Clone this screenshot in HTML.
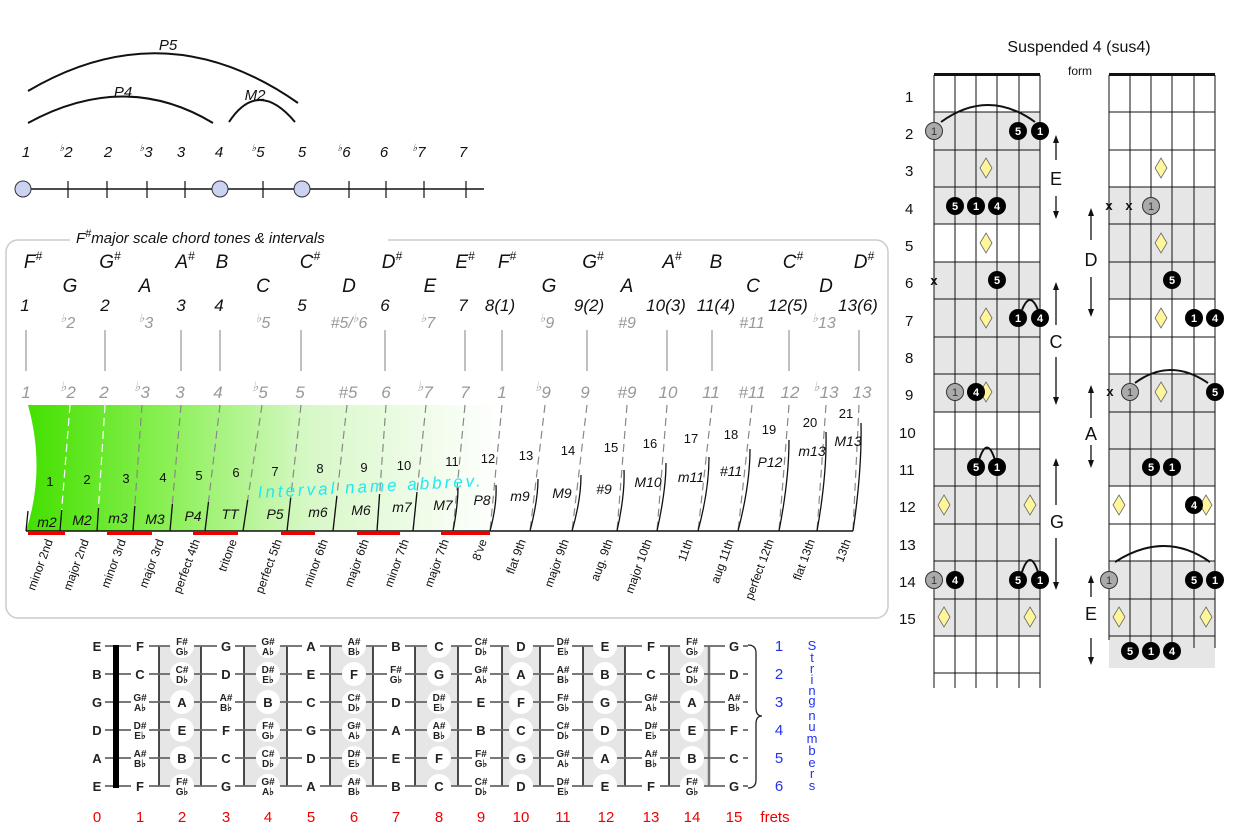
<!DOCTYPE html>
<html><head><meta charset="utf-8"><style>
html,body{margin:0;padding:0;background:#fff}
svg{display:block}
text{font-family:"Liberation Sans",sans-serif}
.it{font-style:italic}
.fb text{font-weight:bold;font-size:13px;text-anchor:middle;fill:#222}
.fb text.s{font-size:10px}
</style></head><body>
<svg width="1239" height="833" viewBox="0 0 1239 833" xmlns="http://www.w3.org/2000/svg">
<defs>
<linearGradient id="gr" x1="28" y1="0" x2="500" y2="0" gradientUnits="userSpaceOnUse">
<stop offset="0" stop-color="#44e000"/><stop offset="0.3" stop-color="#8cf057"/><stop offset="0.6" stop-color="#d8f8c8"/><stop offset="1" stop-color="#fff"/>
</linearGradient>
<g id="bg">
<circle cx="182" cy="0" r="12" fill="#fff"/><circle cx="268" cy="0" r="12" fill="#fff"/><circle cx="354" cy="0" r="12" fill="#fff"/><circle cx="439" cy="0" r="12" fill="#fff"/><circle cx="521" cy="0" r="12" fill="#fff"/><circle cx="605" cy="0" r="12" fill="#fff"/><circle cx="692" cy="0" r="12" fill="#fff"/>
<rect x="131" y="-11" width="18" height="22" fill="#fff"/><rect x="217" y="-11" width="18" height="22" fill="#fff"/><rect x="302" y="-11" width="18" height="22" fill="#fff"/><rect x="387" y="-11" width="18" height="22" fill="#fff"/><rect x="472" y="-11" width="18" height="22" fill="#fff"/><rect x="554" y="-11" width="18" height="22" fill="#fff"/><rect x="642" y="-11" width="18" height="22" fill="#fff"/><rect x="725" y="-11" width="18" height="22" fill="#fff"/>
</g>
</defs>

<!-- TOP INTERVAL DIAGRAM -->
<g fill="none" stroke="#111" stroke-width="2">
<path d="M28,91 Q165,10 298,103"/>
<path d="M28,123 Q125,70 213,123"/>
<path d="M229,122 Q258,78 295,122"/>
</g>
<g class="it" font-size="15" fill="#111" text-anchor="middle">
<text x="168" y="50">P5</text><text x="123" y="97">P4</text><text x="255" y="100">M2</text>
</g>
<g class="it" font-size="15" fill="#111" text-anchor="middle">
<text x="26" y="157">1</text><text x="66" y="157"><tspan font-size="10" dy="-6">♭</tspan><tspan dy="6">2</tspan></text>
<text x="108" y="157">2</text><text x="146" y="157"><tspan font-size="10" dy="-6">♭</tspan><tspan dy="6">3</tspan></text>
<text x="181" y="157">3</text><text x="219" y="157">4</text>
<text x="258" y="157"><tspan font-size="10" dy="-6">♭</tspan><tspan dy="6">5</tspan></text>
<text x="302" y="157">5</text><text x="344" y="157"><tspan font-size="10" dy="-6">♭</tspan><tspan dy="6">6</tspan></text>
<text x="384" y="157">6</text><text x="419" y="157"><tspan font-size="10" dy="-6">♭</tspan><tspan dy="6">7</tspan></text>
<text x="463" y="157">7</text>
</g>
<line x1="23" y1="189" x2="484" y2="189" stroke="#111" stroke-width="1.5"/>
<g stroke="#111" stroke-width="1.2">
<line x1="68" y1="181" x2="68" y2="198"/><line x1="107" y1="181" x2="107" y2="198"/><line x1="147" y1="181" x2="147" y2="198"/><line x1="185" y1="181" x2="185" y2="198"/><line x1="263" y1="181" x2="263" y2="198"/><line x1="349" y1="181" x2="349" y2="198"/><line x1="386" y1="181" x2="386" y2="198"/><line x1="424" y1="181" x2="424" y2="198"/><line x1="466" y1="181" x2="466" y2="198"/>
</g>
<g fill="#ccd2f2" stroke="#333" stroke-width="1">
<circle cx="23" cy="189" r="8"/><circle cx="220" cy="189" r="8"/><circle cx="302" cy="189" r="8"/>
</g>

<!-- MIDDLE PANEL -->
<rect x="6" y="240" width="882" height="378" rx="12" fill="#fff" stroke="#ccc" stroke-width="1.5"/>
<rect x="70" y="228" width="318" height="20" fill="#fff"/>
<text x="76" y="243" class="it" font-size="15" fill="#111">F<tspan font-size="11" dy="-6">#</tspan><tspan dy="6">major scale chord tones &amp; intervals</tspan></text>

<g class="it" font-size="19" fill="#111" text-anchor="middle">
<text x="33" y="268">F<tspan font-size="12" dy="-8">#</tspan></text>
<text x="110" y="268">G<tspan font-size="12" dy="-8">#</tspan></text>
<text x="185" y="268">A<tspan font-size="12" dy="-8">#</tspan></text>
<text x="222" y="268">B</text>
<text x="310" y="268">C<tspan font-size="12" dy="-8">#</tspan></text>
<text x="392" y="268">D<tspan font-size="12" dy="-8">#</tspan></text>
<text x="465" y="268">E<tspan font-size="12" dy="-8">#</tspan></text>
<text x="507" y="268">F<tspan font-size="12" dy="-8">#</tspan></text>
<text x="593" y="268">G<tspan font-size="12" dy="-8">#</tspan></text>
<text x="672" y="268">A<tspan font-size="12" dy="-8">#</tspan></text>
<text x="716" y="268">B</text>
<text x="793" y="268">C<tspan font-size="12" dy="-8">#</tspan></text>
<text x="864" y="268">D<tspan font-size="12" dy="-8">#</tspan></text>
<text x="70" y="292">G</text><text x="145" y="292">A</text><text x="263" y="292">C</text><text x="349" y="292">D</text><text x="430" y="292">E</text>
<text x="549" y="292">G</text><text x="627" y="292">A</text><text x="753" y="292">C</text><text x="826" y="292">D</text>
</g>
<g class="it" font-size="17" fill="#111" text-anchor="middle">
<text x="25" y="311">1</text><text x="105" y="311">2</text><text x="181" y="311">3</text><text x="219" y="311">4</text><text x="302" y="311">5</text><text x="385" y="311">6</text><text x="463" y="311">7</text>
<text x="500" y="311">8(1)</text><text x="589" y="311">9(2)</text><text x="666" y="311">10(3)</text><text x="716" y="311">11(4)</text><text x="788" y="311">12(5)</text><text x="858" y="311">13(6)</text>
</g>
<g class="it" font-size="16" fill="#999" text-anchor="middle">
<text x="68" y="328"><tspan font-size="12" dy="-6">♭</tspan><tspan dy="6">2</tspan></text>
<text x="146" y="328"><tspan font-size="12" dy="-6">♭</tspan><tspan dy="6">3</tspan></text>
<text x="263" y="328"><tspan font-size="12" dy="-6">♭</tspan><tspan dy="6">5</tspan></text>
<text x="349" y="328">#5/<tspan font-size="12" dy="-6">♭</tspan><tspan dy="6">6</tspan></text>
<text x="428" y="328"><tspan font-size="12" dy="-6">♭</tspan><tspan dy="6">7</tspan></text>
<text x="547" y="328"><tspan font-size="12" dy="-6">♭</tspan><tspan dy="6">9</tspan></text>
<text x="627" y="328">#9</text>
<text x="752" y="328">#11</text>
<text x="824" y="328"><tspan font-size="12" dy="-6">♭</tspan><tspan dy="6">13</tspan></text>
</g>
<g stroke="#aaa" stroke-width="1.5">
<line x1="26" y1="330" x2="26" y2="371"/><line x1="105" y1="330" x2="105" y2="371"/><line x1="181" y1="330" x2="181" y2="371"/><line x1="220" y1="330" x2="220" y2="371"/><line x1="301" y1="330" x2="301" y2="371"/><line x1="385" y1="330" x2="385" y2="371"/><line x1="465" y1="330" x2="465" y2="371"/><line x1="502" y1="330" x2="502" y2="371"/><line x1="587" y1="330" x2="587" y2="371"/><line x1="667" y1="330" x2="667" y2="371"/><line x1="712" y1="330" x2="712" y2="371"/><line x1="789" y1="330" x2="789" y2="371"/><line x1="859" y1="330" x2="859" y2="371"/>
</g>
<g class="it" font-size="17" fill="#999" text-anchor="middle">
<text x="26" y="398">1</text><text x="68" y="398"><tspan font-size="13" dy="-7">♭</tspan><tspan dy="7">2</tspan></text>
<text x="104" y="398">2</text><text x="142" y="398"><tspan font-size="13" dy="-7">♭</tspan><tspan dy="7">3</tspan></text>
<text x="180" y="398">3</text><text x="218" y="398">4</text>
<text x="260" y="398"><tspan font-size="13" dy="-7">♭</tspan><tspan dy="7">5</tspan></text>
<text x="300" y="398">5</text><text x="348" y="398">#5</text><text x="386" y="398">6</text>
<text x="425" y="398"><tspan font-size="13" dy="-7">♭</tspan><tspan dy="7">7</tspan></text>
<text x="465" y="398">7</text><text x="502" y="398">1</text>
<text x="543" y="398"><tspan font-size="13" dy="-7">♭</tspan><tspan dy="7">9</tspan></text>
<text x="585" y="398">9</text><text x="627" y="398">#9</text><text x="668" y="398">10</text><text x="711" y="398">11</text><text x="752" y="398">#11</text><text x="790" y="398">12</text>
<text x="826" y="398"><tspan font-size="13" dy="-7">♭</tspan><tspan dy="7">13</tspan></text>
<text x="862" y="398">13</text>
</g>

<path d="M28,405 L500,405 L500,531 L26,531 Q46,470 28,405 Z" fill="url(#gr)"/>
<!-- dashed separators -->
<g stroke="#888" stroke-width="1.2" stroke-dasharray="8,5" fill="none">
<line x1="70" y1="405" x2="60" y2="531" stroke="#fff"/><line x1="105" y1="405" x2="97" y2="531" stroke="#fff"/><line x1="142" y1="405" x2="133" y2="531"/><line x1="181" y1="405" x2="170" y2="531"/><line x1="220" y1="405" x2="205" y2="531"/><line x1="262" y1="405" x2="243" y2="531"/><line x1="301" y1="405" x2="287" y2="531"/><line x1="347" y1="405" x2="333" y2="531"/><line x1="386" y1="405" x2="377" y2="531"/><line x1="426" y1="405" x2="413" y2="531"/><line x1="465" y1="405" x2="453" y2="531"/><line x1="502" y1="405" x2="490" y2="531"/><line x1="545" y1="405" x2="530" y2="531"/><line x1="587" y1="405" x2="572" y2="531"/><line x1="627" y1="405" x2="617" y2="531"/><line x1="667" y1="405" x2="657" y2="531"/><line x1="712" y1="405" x2="698" y2="531"/><line x1="752" y1="405" x2="738" y2="531"/><line x1="789" y1="405" x2="779" y2="531"/><line x1="826" y1="405" x2="817" y2="531"/><line x1="859" y1="405" x2="853" y2="531"/>
</g>
<g stroke="#111" stroke-width="1.3" fill="none">
<line x1="28" y1="511" x2="26" y2="531"/>
<line x1="61.7" y1="510" x2="60" y2="531"/><line x1="98.5" y1="508" x2="97" y2="531"/><line x1="134.8" y1="506" x2="133" y2="531"/><line x1="172.4" y1="504" x2="170" y2="531"/><line x1="208.5" y1="502" x2="205" y2="531"/><line x1="247.7" y1="500" x2="243" y2="531"/><line x1="290.7" y1="498" x2="287" y2="531"/><line x1="336.9" y1="496" x2="333" y2="531"/><line x1="379.6" y1="494" x2="377" y2="531"/><line x1="417" y1="492" x2="413" y2="531"/>
<path d="M453,531 Q458,505 458,487"/><path d="M490,531 Q497,505 496,485"/><path d="M530,531 Q538,500 538,479"/><path d="M572,531 Q581,500 581,475"/><path d="M617,531 Q625,495 624,470"/><path d="M657,531 Q666,490 666,463"/><path d="M698,531 Q709,490 709,457"/><path d="M738,531 Q750,485 750,449"/><path d="M779,531 Q789,480 789,440"/><path d="M817,531 Q827,475 826,432"/><path d="M853,531 Q862,470 861,423"/>
<line x1="26" y1="531" x2="853" y2="531" stroke-width="1.5"/>
</g>
<g fill="#e00" >
<rect x="28" y="531" width="37" height="4"/><rect x="107" y="531" width="45" height="4"/><rect x="193" y="531" width="45" height="4"/><rect x="281" y="531" width="34" height="4"/><rect x="357" y="531" width="43" height="4"/><rect x="441" y="531" width="49" height="4"/>
</g>
<g font-size="13" fill="#111" text-anchor="middle">
<text x="50" y="486">1</text><text x="87" y="484">2</text><text x="126" y="483">3</text><text x="163" y="482">4</text><text x="199" y="480">5</text><text x="236" y="477">6</text><text x="275" y="476">7</text><text x="320" y="473">8</text><text x="364" y="472">9</text><text x="404" y="470">10</text><text x="452" y="466">11</text><text x="488" y="463">12</text><text x="526" y="460">13</text><text x="568" y="455">14</text><text x="611" y="452">15</text><text x="650" y="448">16</text><text x="691" y="443">17</text><text x="731" y="439">18</text><text x="769" y="434">19</text><text x="810" y="427">20</text><text x="846" y="418">21</text>
</g>
<g class="it" font-size="14" fill="#111" text-anchor="middle">
<text x="47" y="527">m2</text><text x="82" y="525">M2</text><text x="118" y="523">m3</text><text x="155" y="524">M3</text><text x="193" y="521">P4</text><text x="230" y="519">TT</text><text x="275" y="519">P5</text><text x="318" y="517">m6</text><text x="361" y="515">M6</text><text x="402" y="512">m7</text><text x="443" y="510">M7</text><text x="482" y="505">P8</text><text x="520" y="501">m9</text><text x="562" y="498">M9</text><text x="604" y="494">#9</text><text x="648" y="487">M10</text><text x="691" y="482">m11</text><text x="731" y="476">#11</text><text x="770" y="467">P12</text><text x="812" y="456">m13</text><text x="848" y="446">M13</text>
</g>
<text x="258" y="498" class="it" font-size="17" fill="#22e8f0" letter-spacing="3" transform="rotate(-3 258 498)">Interval name abbrev.</text>
<g font-size="12" fill="#111" text-anchor="end">
<text transform="translate(53,541) rotate(-70)">minor 2nd</text>
<text transform="translate(89,541) rotate(-70)">major 2nd</text>
<text transform="translate(126,541) rotate(-70)">minor 3rd</text>
<text transform="translate(164,541) rotate(-70)">major 3rd</text>
<text transform="translate(200,541) rotate(-70)">perfect 4th</text>
<text transform="translate(237,541) rotate(-70)">tritone</text>
<text transform="translate(282,541) rotate(-70)">perfect 5th</text>
<text transform="translate(328,541) rotate(-70)">minor 6th</text>
<text transform="translate(369,541) rotate(-70)">major 6th</text>
<text transform="translate(409,541) rotate(-70)">minor 7th</text>
<text transform="translate(449,541) rotate(-70)">major 7th</text>
<text transform="translate(487,541) rotate(-70)">8've</text>
<text transform="translate(526,541) rotate(-70)">flat 9th</text>
<text transform="translate(569,541) rotate(-70)">major 9th</text>
<text transform="translate(613,541) rotate(-70)">aug. 9th</text>
<text transform="translate(652,541) rotate(-70)">major 10th</text>
<text transform="translate(693,541) rotate(-70)">11th</text>
<text transform="translate(734,541) rotate(-70)">aug 11th</text>
<text transform="translate(774,541) rotate(-70)">perfect 12th</text>
<text transform="translate(815,541) rotate(-70)">flat 13th</text>
<text transform="translate(851,541) rotate(-70)">13th</text>
</g>

<!-- BOTTOM FRETBOARD -->
<g fill="#e6e6e6">
<rect x="159" y="646" width="42" height="140"/><rect x="244" y="646" width="43" height="140"/><rect x="330" y="646" width="43" height="140"/><rect x="415" y="646" width="43" height="140"/><rect x="502" y="646" width="38" height="140"/><rect x="583" y="646" width="42" height="140"/><rect x="669" y="646" width="40" height="140"/>
</g>
<g stroke="#111" stroke-width="1.5">
<line x1="159" y1="646" x2="159" y2="786"/><line x1="201" y1="646" x2="201" y2="786"/><line x1="244" y1="646" x2="244" y2="786"/><line x1="287" y1="646" x2="287" y2="786"/><line x1="330" y1="646" x2="330" y2="786"/><line x1="373" y1="646" x2="373" y2="786"/><line x1="415" y1="646" x2="415" y2="786"/><line x1="458" y1="646" x2="458" y2="786"/><line x1="502" y1="646" x2="502" y2="786"/><line x1="540" y1="646" x2="540" y2="786"/><line x1="583" y1="646" x2="583" y2="786"/><line x1="625" y1="646" x2="625" y2="786"/><line x1="669" y1="646" x2="669" y2="786"/><line x1="709" y1="646" x2="709" y2="786" stroke="#777" stroke-width="2.5"/>
</g>
<g stroke="#666" stroke-width="1.8">
<line x1="105" y1="646" x2="748" y2="646"/><line x1="105" y1="674" x2="748" y2="674"/><line x1="105" y1="702" x2="748" y2="702"/><line x1="105" y1="730" x2="748" y2="730"/><line x1="105" y1="758" x2="748" y2="758"/><line x1="105" y1="786" x2="748" y2="786"/>
</g>
<rect x="113" y="645" width="6" height="143" fill="#000"/>
<path d="M748,645 Q756,645 756,653 L756,708 Q756,716 762,716 Q756,716 756,724 L756,780 Q756,788 748,788" fill="none" stroke="#222" stroke-width="1.3"/>
<use href="#bg" y="646"/><use href="#bg" y="674"/><use href="#bg" y="702"/><use href="#bg" y="730"/><use href="#bg" y="758"/><use href="#bg" y="786"/>

<g class="fb">
<g transform="translate(0,646)">
<text x="97" y="5">E</text><text x="140" y="5">F</text><text class="s" x="182" y="-1">F#<tspan x="182" dy="10">G♭</tspan></text><text x="226" y="5">G</text><text class="s" x="268" y="-1">G#<tspan x="268" dy="10">A♭</tspan></text><text x="311" y="5">A</text><text class="s" x="354" y="-1">A#<tspan x="354" dy="10">B♭</tspan></text><text x="396" y="5">B</text><text x="439" y="5">C</text><text class="s" x="481" y="-1">C#<tspan x="481" dy="10">D♭</tspan></text><text x="521" y="5">D</text><text class="s" x="563" y="-1">D#<tspan x="563" dy="10">E♭</tspan></text><text x="605" y="5">E</text><text x="651" y="5">F</text><text class="s" x="692" y="-1">F#<tspan x="692" dy="10">G♭</tspan></text><text x="734" y="5">G</text>
</g>
<g transform="translate(0,674)">
<text x="97" y="5">B</text><text x="140" y="5">C</text><text class="s" x="182" y="-1">C#<tspan x="182" dy="10">D♭</tspan></text><text x="226" y="5">D</text><text class="s" x="268" y="-1">D#<tspan x="268" dy="10">E♭</tspan></text><text x="311" y="5">E</text><text x="354" y="5">F</text><text class="s" x="396" y="-1">F#<tspan x="396" dy="10">G♭</tspan></text><text x="439" y="5">G</text><text class="s" x="481" y="-1">G#<tspan x="481" dy="10">A♭</tspan></text><text x="521" y="5">A</text><text class="s" x="563" y="-1">A#<tspan x="563" dy="10">B♭</tspan></text><text x="605" y="5">B</text><text x="651" y="5">C</text><text class="s" x="692" y="-1">C#<tspan x="692" dy="10">D♭</tspan></text><text x="734" y="5">D</text>
</g>
<g transform="translate(0,702)">
<text x="97" y="5">G</text><text class="s" x="140" y="-1">G#<tspan x="140" dy="10">A♭</tspan></text><text x="182" y="5">A</text><text class="s" x="226" y="-1">A#<tspan x="226" dy="10">B♭</tspan></text><text x="268" y="5">B</text><text x="311" y="5">C</text><text class="s" x="354" y="-1">C#<tspan x="354" dy="10">D♭</tspan></text><text x="396" y="5">D</text><text class="s" x="439" y="-1">D#<tspan x="439" dy="10">E♭</tspan></text><text x="481" y="5">E</text><text x="521" y="5">F</text><text class="s" x="563" y="-1">F#<tspan x="563" dy="10">G♭</tspan></text><text x="605" y="5">G</text><text class="s" x="651" y="-1">G#<tspan x="651" dy="10">A♭</tspan></text><text x="692" y="5">A</text><text class="s" x="734" y="-1">A#<tspan x="734" dy="10">B♭</tspan></text>
</g>
<g transform="translate(0,730)">
<text x="97" y="5">D</text><text class="s" x="140" y="-1">D#<tspan x="140" dy="10">E♭</tspan></text><text x="182" y="5">E</text><text x="226" y="5">F</text><text class="s" x="268" y="-1">F#<tspan x="268" dy="10">G♭</tspan></text><text x="311" y="5">G</text><text class="s" x="354" y="-1">G#<tspan x="354" dy="10">A♭</tspan></text><text x="396" y="5">A</text><text class="s" x="439" y="-1">A#<tspan x="439" dy="10">B♭</tspan></text><text x="481" y="5">B</text><text x="521" y="5">C</text><text class="s" x="563" y="-1">C#<tspan x="563" dy="10">D♭</tspan></text><text x="605" y="5">D</text><text class="s" x="651" y="-1">D#<tspan x="651" dy="10">E♭</tspan></text><text x="692" y="5">E</text><text x="734" y="5">F</text>
</g>
<g transform="translate(0,758)">
<text x="97" y="5">A</text><text class="s" x="140" y="-1">A#<tspan x="140" dy="10">B♭</tspan></text><text x="182" y="5">B</text><text x="226" y="5">C</text><text class="s" x="268" y="-1">C#<tspan x="268" dy="10">D♭</tspan></text><text x="311" y="5">D</text><text class="s" x="354" y="-1">D#<tspan x="354" dy="10">E♭</tspan></text><text x="396" y="5">E</text><text x="439" y="5">F</text><text class="s" x="481" y="-1">F#<tspan x="481" dy="10">G♭</tspan></text><text x="521" y="5">G</text><text class="s" x="563" y="-1">G#<tspan x="563" dy="10">A♭</tspan></text><text x="605" y="5">A</text><text class="s" x="651" y="-1">A#<tspan x="651" dy="10">B♭</tspan></text><text x="692" y="5">B</text><text x="734" y="5">C</text>
</g>
<g transform="translate(0,786)">
<text x="97" y="5">E</text><text x="140" y="5">F</text><text class="s" x="182" y="-1">F#<tspan x="182" dy="10">G♭</tspan></text><text x="226" y="5">G</text><text class="s" x="268" y="-1">G#<tspan x="268" dy="10">A♭</tspan></text><text x="311" y="5">A</text><text class="s" x="354" y="-1">A#<tspan x="354" dy="10">B♭</tspan></text><text x="396" y="5">B</text><text x="439" y="5">C</text><text class="s" x="481" y="-1">C#<tspan x="481" dy="10">D♭</tspan></text><text x="521" y="5">D</text><text class="s" x="563" y="-1">D#<tspan x="563" dy="10">E♭</tspan></text><text x="605" y="5">E</text><text x="651" y="5">F</text><text class="s" x="692" y="-1">F#<tspan x="692" dy="10">G♭</tspan></text><text x="734" y="5">G</text>
</g>
</g>
<g font-size="15" fill="#e00" text-anchor="middle">
<text x="97" y="822">0</text><text x="140" y="822">1</text><text x="182" y="822">2</text><text x="226" y="822">3</text><text x="268" y="822">4</text><text x="311" y="822">5</text><text x="354" y="822">6</text><text x="396" y="822">7</text><text x="439" y="822">8</text><text x="481" y="822">9</text><text x="521" y="822">10</text><text x="563" y="822">11</text><text x="606" y="822">12</text><text x="651" y="822">13</text><text x="692" y="822">14</text><text x="734" y="822">15</text><text x="775" y="822">frets</text>
</g>
<g font-size="15" fill="#2233ee" text-anchor="middle">
<text x="779" y="651">1</text><text x="779" y="679">2</text><text x="779" y="707">3</text><text x="779" y="735">4</text><text x="779" y="763">5</text><text x="779" y="791">6</text>
</g>
<g font-size="13" fill="#2233ee" text-anchor="middle">
<text x="812" y="650">S</text><text x="812" y="662">t</text><text x="812" y="673">r</text><text x="812" y="684">i</text><text x="812" y="695">n</text><text x="812" y="705">g</text>
<text x="812" y="720">n</text><text x="812" y="731">u</text><text x="812" y="743">m</text><text x="812" y="755">b</text><text x="812" y="767">e</text><text x="812" y="778">r</text><text x="812" y="790">s</text>
</g>

<!-- RIGHT CHORD DIAGRAMS -->
<text x="1079" y="52" font-size="16" fill="#111" text-anchor="middle">Suspended 4 (sus4)</text>
<text x="1080" y="75" font-size="12" fill="#111" text-anchor="middle">form</text>
<!-- shading -->
<g fill="#e6e6e6">
<rect x="934" y="112" width="106" height="112"/><rect x="934" y="262" width="106" height="150"/><rect x="934" y="449" width="106" height="187"/>
<rect x="1109" y="187" width="106" height="112"/><rect x="1109" y="374" width="106" height="112"/><rect x="1109" y="561" width="106" height="107"/>
</g>
<g stroke="#111" stroke-width="1">
<line x1="934" y1="75" x2="934" y2="688"/><line x1="955" y1="75" x2="955" y2="688"/><line x1="976" y1="75" x2="976" y2="688"/><line x1="997" y1="75" x2="997" y2="688"/><line x1="1019" y1="75" x2="1019" y2="688"/><line x1="1040" y1="75" x2="1040" y2="688"/>
<line x1="1109" y1="75" x2="1109" y2="640"/><line x1="1130" y1="75" x2="1130" y2="660"/><line x1="1151" y1="75" x2="1151" y2="660"/><line x1="1172" y1="75" x2="1172" y2="660"/><line x1="1194" y1="75" x2="1194" y2="648"/><line x1="1215" y1="75" x2="1215" y2="648"/>
</g>
<g stroke="#111" stroke-width="1">
<line x1="934" y1="112" x2="1040" y2="112"/><line x1="934" y1="150" x2="1040" y2="150"/><line x1="934" y1="187" x2="1040" y2="187"/><line x1="934" y1="224" x2="1040" y2="224"/><line x1="934" y1="262" x2="1040" y2="262"/><line x1="934" y1="299" x2="1040" y2="299"/><line x1="934" y1="337" x2="1040" y2="337"/><line x1="934" y1="374" x2="1040" y2="374"/><line x1="934" y1="412" x2="1040" y2="412"/><line x1="934" y1="449" x2="1040" y2="449"/><line x1="934" y1="486" x2="1040" y2="486"/><line x1="934" y1="524" x2="1040" y2="524"/><line x1="934" y1="561" x2="1040" y2="561"/><line x1="934" y1="599" x2="1040" y2="599"/><line x1="934" y1="636" x2="1040" y2="636"/><line x1="934" y1="673" x2="1040" y2="673"/>
<line x1="1109" y1="112" x2="1215" y2="112"/><line x1="1109" y1="150" x2="1215" y2="150"/><line x1="1109" y1="187" x2="1215" y2="187"/><line x1="1109" y1="224" x2="1215" y2="224"/><line x1="1109" y1="262" x2="1215" y2="262"/><line x1="1109" y1="299" x2="1215" y2="299"/><line x1="1109" y1="337" x2="1215" y2="337"/><line x1="1109" y1="374" x2="1215" y2="374"/><line x1="1109" y1="412" x2="1215" y2="412"/><line x1="1109" y1="449" x2="1215" y2="449"/><line x1="1109" y1="486" x2="1215" y2="486"/><line x1="1109" y1="524" x2="1215" y2="524"/><line x1="1109" y1="561" x2="1215" y2="561"/><line x1="1109" y1="599" x2="1215" y2="599"/><line x1="1109" y1="636" x2="1215" y2="636"/>
</g>
<rect x="934" y="73" width="106" height="3" fill="#111"/><rect x="1109" y="73" width="106" height="3" fill="#111"/>
<g font-size="15" fill="#111">
<text x="905" y="102">1</text><text x="905" y="139">2</text><text x="905" y="176">3</text><text x="905" y="214">4</text><text x="905" y="251">5</text><text x="905" y="288">6</text><text x="905" y="326">7</text><text x="905" y="363">8</text><text x="905" y="400">9</text><text x="899" y="438">10</text><text x="899" y="475">11</text><text x="899" y="512">12</text><text x="899" y="550">13</text><text x="899" y="587">14</text><text x="899" y="624">15</text>
</g>
<!-- arcs -->
<g fill="none" stroke="#111" stroke-width="2">
<path d="M941,122 Q988,88 1035,122"/><path d="M1022,310 Q1030,290 1038,310"/><path d="M979,460 Q987,435 995,460"/><path d="M1022,572 Q1030,548 1038,572"/>
<path d="M1135,383 Q1170,357 1208,383"/><path d="M1115,562 Q1165,530 1210,562"/>
</g>
<!-- diamonds -->
<g fill="#fff59a" stroke="#666" stroke-width="0.8">
<path d="M986,158 l6,10 l-6,10 l-6,-10z"/><path d="M986,233 l6,10 l-6,10 l-6,-10z"/><path d="M986,308 l6,10 l-6,10 l-6,-10z"/><path d="M986,382 l6,10 l-6,10 l-6,-10z"/>
<path d="M944,495 l6,10 l-6,10 l-6,-10z"/><path d="M1030,495 l6,10 l-6,10 l-6,-10z"/><path d="M944,607 l6,10 l-6,10 l-6,-10z"/><path d="M1030,607 l6,10 l-6,10 l-6,-10z"/>
<path d="M1161,158 l6,10 l-6,10 l-6,-10z"/><path d="M1161,233 l6,10 l-6,10 l-6,-10z"/><path d="M1161,308 l6,10 l-6,10 l-6,-10z"/><path d="M1161,382 l6,10 l-6,10 l-6,-10z"/>
<path d="M1119,495 l6,10 l-6,10 l-6,-10z"/><path d="M1206,495 l6,10 l-6,10 l-6,-10z"/><path d="M1119,607 l6,10 l-6,10 l-6,-10z"/><path d="M1206,607 l6,10 l-6,10 l-6,-10z"/>
</g>
<!-- gray dots -->
<g fill="#aaa" stroke="#333" stroke-width="1">
<circle cx="934" cy="131" r="8.5"/><circle cx="955" cy="392" r="8.5"/><circle cx="934" cy="580" r="8.5"/>
<circle cx="1151" cy="206" r="8.5"/><circle cx="1130" cy="392" r="8.5"/><circle cx="1109" cy="580" r="8.5"/>
</g>
<g fill="#000">
<circle cx="1018" cy="131" r="9"/><circle cx="1040" cy="131" r="9"/>
<circle cx="955" cy="206" r="9"/><circle cx="976" cy="206" r="9"/><circle cx="997" cy="206" r="9"/>
<circle cx="997" cy="280" r="9"/><circle cx="1018" cy="318" r="9"/><circle cx="1040" cy="318" r="9"/>
<circle cx="976" cy="392" r="9"/><circle cx="976" cy="467" r="9"/><circle cx="997" cy="467" r="9"/>
<circle cx="955" cy="580" r="9"/><circle cx="1018" cy="580" r="9"/><circle cx="1040" cy="580" r="9"/>
<circle cx="1172" cy="280" r="9"/><circle cx="1194" cy="318" r="9"/><circle cx="1215" cy="318" r="9"/>
<circle cx="1215" cy="392" r="9"/><circle cx="1151" cy="467" r="9"/><circle cx="1172" cy="467" r="9"/>
<circle cx="1194" cy="505" r="9"/><circle cx="1194" cy="580" r="9"/><circle cx="1215" cy="580" r="9"/>
<circle cx="1130" cy="651" r="9"/><circle cx="1151" cy="651" r="9"/><circle cx="1172" cy="651" r="9"/>
</g>
<g font-size="11" text-anchor="middle" fill="#fff" font-weight="bold">
<text x="1018" y="135">5</text><text x="1040" y="135">1</text>
<text x="955" y="210">5</text><text x="976" y="210">1</text><text x="997" y="210">4</text>
<text x="997" y="284">5</text><text x="1018" y="322">1</text><text x="1040" y="322">4</text>
<text x="976" y="396">4</text><text x="976" y="471">5</text><text x="997" y="471">1</text>
<text x="955" y="584">4</text><text x="1018" y="584">5</text><text x="1040" y="584">1</text>
<text x="1172" y="284">5</text><text x="1194" y="322">1</text><text x="1215" y="322">4</text>
<text x="1215" y="396">5</text><text x="1151" y="471">5</text><text x="1172" y="471">1</text>
<text x="1194" y="509">4</text><text x="1194" y="584">5</text><text x="1215" y="584">1</text>
<text x="1130" y="655">5</text><text x="1151" y="655">1</text><text x="1172" y="655">4</text>
</g>
<g font-size="11" text-anchor="middle" fill="#333">
<text x="934" y="135">1</text><text x="955" y="396">1</text><text x="934" y="584">1</text>
<text x="1151" y="210">1</text><text x="1130" y="396">1</text><text x="1109" y="584">1</text>
</g>
<g font-size="13" font-weight="bold" fill="#111" text-anchor="middle">
<text x="934" y="285">x</text><text x="1109" y="210">x</text><text x="1129" y="210">x</text><text x="1110" y="396">x</text>
</g>
<!-- arrows -->
<g stroke="#111" stroke-width="1.3">
<line x1="1056" y1="140" x2="1056" y2="160"/><line x1="1056" y1="196" x2="1056" y2="214"/>
<line x1="1056" y1="287" x2="1056" y2="325"/><line x1="1056" y1="357" x2="1056" y2="400"/>
<line x1="1056" y1="463" x2="1056" y2="505"/><line x1="1056" y1="538" x2="1056" y2="585"/>
<line x1="1091" y1="213" x2="1091" y2="240"/><line x1="1091" y1="277" x2="1091" y2="312"/>
<line x1="1091" y1="390" x2="1091" y2="418"/><line x1="1091" y1="445" x2="1091" y2="463"/>
<line x1="1091" y1="580" x2="1091" y2="597"/><line x1="1091" y1="638" x2="1091" y2="660"/>
</g>
<g fill="#111">
<path d="M1053,143 l3,-8 l3,8z"/><path d="M1053,211 l3,8 l3,-8z"/>
<path d="M1053,290 l3,-8 l3,8z"/><path d="M1053,397 l3,8 l3,-8z"/>
<path d="M1053,466 l3,-8 l3,8z"/><path d="M1053,582 l3,8 l3,-8z"/>
<path d="M1088,216 l3,-8 l3,8z"/><path d="M1088,309 l3,8 l3,-8z"/>
<path d="M1088,393 l3,-8 l3,8z"/><path d="M1088,460 l3,8 l3,-8z"/>
<path d="M1088,583 l3,-8 l3,8z"/><path d="M1088,657 l3,8 l3,-8z"/>
</g>
<g font-size="18" fill="#111" text-anchor="middle">
<text x="1056" y="185">E</text><text x="1056" y="348">C</text><text x="1057" y="528">G</text>
<text x="1091" y="266">D</text><text x="1091" y="440">A</text><text x="1091" y="620">E</text>
</g>
</svg>
</body></html>
